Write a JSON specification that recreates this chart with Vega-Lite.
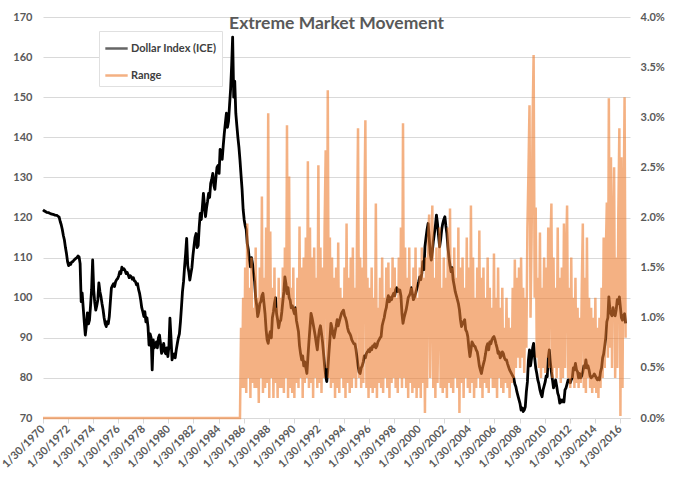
{
  "$schema": "https://vega.github.io/schema/vega-lite/v6.json",
  "width": 587,
  "height": 401,
  "autosize": "none",
  "padding": {"left": 43, "top": 17, "right": 50, "bottom": 71},
  "background": "white",
  "config": {
    "view": {"stroke": null},
    "font": "Lato"
  },
  "title": {
    "text": "Extreme Market Movement",
    "font": "Lato",
    "fontSize": 17.5,
    "fontWeight": "bold",
    "color": "#595959",
    "anchor": "middle",
    "baseline": "middle",
    "offset": 0,
    "dy": 30
  },
  "datasets": {
    "dxy": [
      {"d":"1970-01-30","v":121.9},{"d":"1970-03-15","v":121.6},{"d":"1970-05-15","v":121.3},{"d":"1970-07-15","v":121.2},{"d":"1970-09-15","v":120.9},{"d":"1970-11-15","v":120.8},
      {"d":"1971-01-15","v":120.6},{"d":"1971-03-15","v":120.5},{"d":"1971-05-15","v":120.1},{"d":"1971-06-15","v":119.0},{"d":"1971-07-15","v":118.2},{"d":"1971-08-15","v":117.0},{"d":"1971-09-15","v":115.5},{"d":"1971-10-15","v":114.4},{"d":"1971-11-15","v":112.5},{"d":"1971-12-15","v":111.0},
      {"d":"1972-01-15","v":109.0},{"d":"1972-02-15","v":108.0},{"d":"1972-03-15","v":108.6},{"d":"1972-04-15","v":108.3},{"d":"1972-05-15","v":108.9},{"d":"1972-06-15","v":109.0},{"d":"1972-07-15","v":109.3},{"d":"1972-08-15","v":109.6},{"d":"1972-09-15","v":109.8},{"d":"1972-10-15","v":110.0},{"d":"1972-11-15","v":110.4},{"d":"1972-12-15","v":110.2},
      {"d":"1973-01-15","v":108.5},{"d":"1973-02-15","v":99.0},{"d":"1973-03-15","v":101.2},{"d":"1973-04-15","v":97.5},{"d":"1973-05-15","v":94.0},{"d":"1973-06-15","v":90.7},{"d":"1973-07-15","v":93.0},{"d":"1973-08-15","v":96.2},{"d":"1973-09-15","v":93.5},{"d":"1973-10-15","v":94.4},{"d":"1973-11-15","v":98.0},{"d":"1973-12-15","v":102.0},
      {"d":"1974-01-15","v":109.4},{"d":"1974-02-15","v":101.9},{"d":"1974-03-15","v":99.0},{"d":"1974-04-15","v":96.9},{"d":"1974-05-15","v":98.0},{"d":"1974-06-15","v":99.5},{"d":"1974-07-15","v":103.7},{"d":"1974-08-15","v":101.5},{"d":"1974-09-15","v":100.2},{"d":"1974-10-15","v":98.5},{"d":"1974-11-15","v":97.0},{"d":"1974-12-15","v":95.0},
      {"d":"1975-01-15","v":93.5},{"d":"1975-02-15","v":92.8},{"d":"1975-03-15","v":94.0},{"d":"1975-04-15","v":93.5},{"d":"1975-05-15","v":95.3},{"d":"1975-06-15","v":99.0},{"d":"1975-07-15","v":102.4},{"d":"1975-08-15","v":103.0},{"d":"1975-09-15","v":103.5},{"d":"1975-10-15","v":102.8},{"d":"1975-11-15","v":104.0},{"d":"1975-12-15","v":104.5},
      {"d":"1976-01-15","v":104.8},{"d":"1976-02-15","v":105.5},{"d":"1976-03-15","v":106.5},{"d":"1976-04-15","v":106.0},{"d":"1976-05-15","v":107.6},{"d":"1976-06-15","v":107.0},{"d":"1976-07-15","v":107.2},{"d":"1976-08-15","v":106.8},{"d":"1976-09-15","v":106.0},{"d":"1976-10-15","v":106.3},{"d":"1976-11-15","v":105.7},{"d":"1976-12-15","v":105.0},
      {"d":"1977-01-15","v":105.5},{"d":"1977-02-15","v":105.2},{"d":"1977-03-15","v":104.6},{"d":"1977-04-15","v":105.0},{"d":"1977-05-15","v":104.2},{"d":"1977-06-15","v":104.0},{"d":"1977-07-15","v":103.2},{"d":"1977-08-15","v":103.5},{"d":"1977-09-15","v":102.0},{"d":"1977-10-15","v":101.0},{"d":"1977-11-15","v":99.4},{"d":"1977-12-15","v":97.5},
      {"d":"1978-01-15","v":96.5},{"d":"1978-02-15","v":95.3},{"d":"1978-03-15","v":96.5},{"d":"1978-04-15","v":94.0},{"d":"1978-05-15","v":95.0},{"d":"1978-06-15","v":92.8},{"d":"1978-07-15","v":88.2},{"d":"1978-08-15","v":91.0},{"d":"1978-09-15","v":90.0},{"d":"1978-10-15","v":82.0},{"d":"1978-11-15","v":89.5},{"d":"1978-12-15","v":87.5},
      {"d":"1979-01-15","v":88.0},{"d":"1979-02-15","v":89.0},{"d":"1979-03-15","v":87.5},{"d":"1979-04-15","v":90.0},{"d":"1979-05-15","v":90.7},{"d":"1979-06-15","v":88.5},{"d":"1979-07-15","v":86.1},{"d":"1979-08-15","v":87.5},{"d":"1979-09-15","v":88.6},{"d":"1979-10-15","v":86.5},{"d":"1979-11-15","v":86.0},{"d":"1979-12-15","v":87.5},
      {"d":"1980-01-15","v":85.3},{"d":"1980-02-15","v":88.0},{"d":"1980-03-15","v":94.9},{"d":"1980-04-15","v":90.0},{"d":"1980-05-15","v":84.5},{"d":"1980-06-15","v":85.5},{"d":"1980-07-15","v":86.0},{"d":"1980-08-15","v":85.0},{"d":"1980-09-15","v":87.0},{"d":"1980-10-15","v":88.5},{"d":"1980-11-15","v":90.0},{"d":"1980-12-15","v":91.0},
      {"d":"1981-01-15","v":94.0},{"d":"1981-02-15","v":97.8},{"d":"1981-03-15","v":101.5},{"d":"1981-04-15","v":104.0},{"d":"1981-05-15","v":107.7},{"d":"1981-06-15","v":111.0},{"d":"1981-07-15","v":114.8},{"d":"1981-08-15","v":108.0},{"d":"1981-09-15","v":106.5},{"d":"1981-10-15","v":104.4},{"d":"1981-11-15","v":106.0},{"d":"1981-12-15","v":107.5},
      {"d":"1982-01-15","v":110.6},{"d":"1982-02-15","v":113.0},{"d":"1982-03-15","v":115.0},{"d":"1982-04-15","v":116.0},{"d":"1982-05-15","v":112.5},{"d":"1982-06-15","v":113.0},{"d":"1982-07-15","v":117.5},{"d":"1982-08-15","v":121.0},{"d":"1982-09-15","v":119.5},{"d":"1982-10-15","v":122.5},{"d":"1982-11-15","v":126.0},{"d":"1982-12-15","v":123.0},
      {"d":"1983-01-15","v":120.2},{"d":"1983-02-15","v":122.5},{"d":"1983-03-15","v":124.0},{"d":"1983-04-15","v":126.0},{"d":"1983-05-15","v":125.0},{"d":"1983-06-15","v":128.5},{"d":"1983-07-15","v":129.5},{"d":"1983-08-15","v":131.0},{"d":"1983-09-15","v":128.0},{"d":"1983-10-15","v":127.0},{"d":"1983-11-15","v":130.0},{"d":"1983-12-15","v":132.5},
      {"d":"1984-01-15","v":133.0},{"d":"1984-02-15","v":131.0},{"d":"1984-03-15","v":137.0},{"d":"1984-04-15","v":135.5},{"d":"1984-05-15","v":134.5},{"d":"1984-06-15","v":138.0},{"d":"1984-07-15","v":141.0},{"d":"1984-08-15","v":143.5},{"d":"1984-09-15","v":146.0},{"d":"1984-10-15","v":142.5},{"d":"1984-11-15","v":144.0},{"d":"1984-12-15","v":148.0},
      {"d":"1985-01-15","v":152.0},{"d":"1985-02-15","v":158.0},{"d":"1985-03-15","v":165.0},{"d":"1985-04-15","v":150.0},{"d":"1985-05-15","v":154.0},{"d":"1985-06-15","v":146.0},{"d":"1985-07-15","v":143.0},{"d":"1985-08-15","v":140.0},{"d":"1985-09-15","v":137.5},{"d":"1985-10-15","v":134.3},{"d":"1985-11-15","v":130.5},{"d":"1985-12-15","v":127.0},
      {"d":"1986-01-15","v":122.0},{"d":"1986-02-15","v":119.4},{"d":"1986-03-15","v":118.0},{"d":"1986-04-15","v":117.0},{"d":"1986-05-15","v":113.5},{"d":"1986-06-15","v":112.0},{"d":"1986-07-15","v":109.5},{"d":"1986-08-15","v":107.7},{"d":"1986-09-15","v":110.0},{"d":"1986-10-15","v":108.5},{"d":"1986-11-15","v":106.0},{"d":"1986-12-15","v":104.0},
      {"d":"1987-01-15","v":100.0},{"d":"1987-02-15","v":98.0},{"d":"1987-03-15","v":95.3},{"d":"1987-04-15","v":96.5},{"d":"1987-05-15","v":98.5},{"d":"1987-06-15","v":99.0},{"d":"1987-07-15","v":100.5},{"d":"1987-08-15","v":101.1},{"d":"1987-09-15","v":98.5},{"d":"1987-10-15","v":96.0},{"d":"1987-11-15","v":92.0},{"d":"1987-12-15","v":89.5},
      {"d":"1988-01-15","v":88.6},{"d":"1988-02-15","v":90.5},{"d":"1988-03-15","v":91.5},{"d":"1988-04-15","v":90.0},{"d":"1988-05-15","v":95.0},{"d":"1988-06-15","v":96.5},{"d":"1988-07-15","v":98.6},{"d":"1988-08-15","v":100.0},{"d":"1988-09-15","v":96.0},{"d":"1988-10-15","v":94.5},{"d":"1988-11-15","v":92.5},{"d":"1988-12-15","v":94.0},
      {"d":"1989-01-15","v":94.4},{"d":"1989-02-15","v":96.5},{"d":"1989-03-15","v":99.0},{"d":"1989-04-15","v":101.5},{"d":"1989-05-15","v":105.2},{"d":"1989-06-15","v":103.5},{"d":"1989-07-15","v":101.0},{"d":"1989-08-15","v":102.5},{"d":"1989-09-15","v":100.0},{"d":"1989-10-15","v":99.4},{"d":"1989-11-15","v":97.5},{"d":"1989-12-15","v":98.0},
      {"d":"1990-01-15","v":97.0},{"d":"1990-02-15","v":96.0},{"d":"1990-03-15","v":97.5},{"d":"1990-04-15","v":94.4},{"d":"1990-05-15","v":93.0},{"d":"1990-06-15","v":91.5},{"d":"1990-07-15","v":88.0},{"d":"1990-08-15","v":86.0},{"d":"1990-09-15","v":84.5},{"d":"1990-10-15","v":85.5},{"d":"1990-11-15","v":83.0},{"d":"1990-12-15","v":84.0},
      {"d":"1991-01-15","v":82.5},{"d":"1991-02-15","v":81.1},{"d":"1991-03-15","v":85.0},{"d":"1991-04-15","v":89.0},{"d":"1991-05-15","v":92.5},{"d":"1991-06-15","v":96.1},{"d":"1991-07-15","v":95.0},{"d":"1991-08-15","v":93.5},{"d":"1991-09-15","v":92.0},{"d":"1991-10-15","v":90.5},{"d":"1991-11-15","v":88.6},{"d":"1991-12-15","v":87.0},
      {"d":"1992-01-15","v":90.0},{"d":"1992-02-15","v":92.0},{"d":"1992-03-15","v":93.0},{"d":"1992-04-15","v":91.1},{"d":"1992-05-15","v":89.0},{"d":"1992-06-15","v":86.0},{"d":"1992-07-15","v":83.0},{"d":"1992-08-15","v":80.5},{"d":"1992-09-15","v":79.1},{"d":"1992-10-15","v":82.0},{"d":"1992-11-15","v":86.0},{"d":"1992-12-15","v":89.5},
      {"d":"1993-01-15","v":93.6},{"d":"1993-02-15","v":92.5},{"d":"1993-03-15","v":91.0},{"d":"1993-04-15","v":90.0},{"d":"1993-05-15","v":91.5},{"d":"1993-06-15","v":92.8},{"d":"1993-07-15","v":94.5},{"d":"1993-08-15","v":93.0},{"d":"1993-09-15","v":94.0},{"d":"1993-10-15","v":95.0},{"d":"1993-11-15","v":96.0},{"d":"1993-12-15","v":96.5},
      {"d":"1994-01-15","v":96.9},{"d":"1994-02-15","v":95.5},{"d":"1994-03-15","v":95.0},{"d":"1994-04-15","v":94.0},{"d":"1994-05-15","v":92.5},{"d":"1994-06-15","v":91.5},{"d":"1994-07-15","v":91.1},{"d":"1994-08-15","v":90.5},{"d":"1994-09-15","v":89.5},{"d":"1994-10-15","v":89.0},{"d":"1994-11-15","v":88.5},{"d":"1994-12-15","v":88.5},
      {"d":"1995-01-15","v":87.0},{"d":"1995-02-15","v":85.0},{"d":"1995-03-15","v":83.0},{"d":"1995-04-15","v":81.5},{"d":"1995-05-15","v":81.1},{"d":"1995-06-15","v":82.5},{"d":"1995-07-15","v":83.0},{"d":"1995-08-15","v":84.0},{"d":"1995-09-15","v":85.5},{"d":"1995-10-15","v":85.0},{"d":"1995-11-15","v":86.1},{"d":"1995-12-15","v":86.5},
      {"d":"1996-01-15","v":87.0},{"d":"1996-02-15","v":86.5},{"d":"1996-03-15","v":87.5},{"d":"1996-04-15","v":87.0},{"d":"1996-05-15","v":88.0},{"d":"1996-06-15","v":87.8},{"d":"1996-07-15","v":88.5},{"d":"1996-08-15","v":87.5},{"d":"1996-09-15","v":88.0},{"d":"1996-10-15","v":89.0},{"d":"1996-11-15","v":89.5},{"d":"1996-12-15","v":90.0},
      {"d":"1997-01-15","v":90.3},{"d":"1997-02-15","v":93.0},{"d":"1997-03-15","v":94.0},{"d":"1997-04-15","v":95.0},{"d":"1997-05-15","v":96.5},{"d":"1997-06-15","v":97.5},{"d":"1997-07-15","v":99.4},{"d":"1997-08-15","v":100.5},{"d":"1997-09-15","v":99.0},{"d":"1997-10-15","v":100.0},{"d":"1997-11-15","v":99.5},{"d":"1997-12-15","v":100.5},
      {"d":"1998-01-15","v":101.1},{"d":"1998-02-15","v":100.5},{"d":"1998-03-15","v":102.0},{"d":"1998-04-15","v":102.5},{"d":"1998-05-15","v":101.5},{"d":"1998-06-15","v":102.0},{"d":"1998-07-15","v":101.9},{"d":"1998-08-15","v":100.5},{"d":"1998-09-15","v":96.0},{"d":"1998-10-15","v":93.6},{"d":"1998-11-15","v":95.0},{"d":"1998-12-15","v":96.0},
      {"d":"1999-01-15","v":97.0},{"d":"1999-02-15","v":98.5},{"d":"1999-03-15","v":100.0},{"d":"1999-04-15","v":100.5},{"d":"1999-05-15","v":101.1},{"d":"1999-06-15","v":102.5},{"d":"1999-07-15","v":101.0},{"d":"1999-08-15","v":99.5},{"d":"1999-09-15","v":100.2},{"d":"1999-10-15","v":101.0},{"d":"1999-11-15","v":102.0},{"d":"1999-12-15","v":103.0},
      {"d":"2000-01-15","v":104.0},{"d":"2000-02-15","v":105.2},{"d":"2000-03-15","v":104.5},{"d":"2000-04-15","v":106.1},{"d":"2000-05-15","v":109.0},{"d":"2000-06-15","v":107.0},{"d":"2000-07-15","v":112.7},{"d":"2000-08-15","v":115.0},{"d":"2000-09-15","v":117.0},{"d":"2000-10-15","v":118.5},{"d":"2000-11-15","v":115.0},{"d":"2000-12-15","v":111.0},
      {"d":"2001-01-15","v":109.4},{"d":"2001-02-15","v":111.5},{"d":"2001-03-15","v":114.0},{"d":"2001-04-15","v":116.0},{"d":"2001-05-15","v":118.0},{"d":"2001-06-15","v":120.6},{"d":"2001-07-15","v":118.5},{"d":"2001-08-15","v":115.5},{"d":"2001-09-15","v":112.7},{"d":"2001-10-15","v":114.5},{"d":"2001-11-15","v":117.0},{"d":"2001-12-15","v":118.5},
      {"d":"2002-01-15","v":119.5},{"d":"2002-02-15","v":120.2},{"d":"2002-03-15","v":118.0},{"d":"2002-04-15","v":116.0},{"d":"2002-05-15","v":112.7},{"d":"2002-06-15","v":110.0},{"d":"2002-07-15","v":108.0},{"d":"2002-08-15","v":106.5},{"d":"2002-09-15","v":107.5},{"d":"2002-10-15","v":104.4},{"d":"2002-11-15","v":103.0},{"d":"2002-12-15","v":101.5},
      {"d":"2003-01-15","v":100.5},{"d":"2003-02-15","v":99.5},{"d":"2003-03-15","v":98.6},{"d":"2003-04-15","v":97.0},{"d":"2003-05-15","v":94.5},{"d":"2003-06-15","v":92.8},{"d":"2003-07-15","v":93.5},{"d":"2003-08-15","v":94.0},{"d":"2003-09-15","v":94.5},{"d":"2003-10-15","v":92.0},{"d":"2003-11-15","v":91.5},{"d":"2003-12-15","v":90.3},
      {"d":"2004-01-15","v":87.5},{"d":"2004-02-15","v":85.3},{"d":"2004-03-15","v":87.0},{"d":"2004-04-15","v":89.0},{"d":"2004-05-15","v":88.5},{"d":"2004-06-15","v":88.0},{"d":"2004-07-15","v":87.8},{"d":"2004-08-15","v":87.0},{"d":"2004-09-15","v":86.5},{"d":"2004-10-15","v":85.0},{"d":"2004-11-15","v":83.0},{"d":"2004-12-15","v":82.0},
      {"d":"2005-01-15","v":81.1},{"d":"2005-02-15","v":82.5},{"d":"2005-03-15","v":83.5},{"d":"2005-04-15","v":84.5},{"d":"2005-05-15","v":86.0},{"d":"2005-06-15","v":87.8},{"d":"2005-07-15","v":88.5},{"d":"2005-08-15","v":87.0},{"d":"2005-09-15","v":89.0},{"d":"2005-10-15","v":88.5},{"d":"2005-11-15","v":89.5},{"d":"2005-12-15","v":90.0},
      {"d":"2006-01-15","v":90.3},{"d":"2006-02-15","v":89.5},{"d":"2006-03-15","v":88.5},{"d":"2006-04-15","v":87.5},{"d":"2006-05-15","v":86.1},{"d":"2006-06-15","v":86.5},{"d":"2006-07-15","v":85.0},{"d":"2006-08-15","v":85.5},{"d":"2006-09-15","v":86.5},{"d":"2006-10-15","v":86.1},{"d":"2006-11-15","v":85.0},{"d":"2006-12-15","v":84.5},
      {"d":"2007-01-15","v":84.5},{"d":"2007-02-15","v":83.5},{"d":"2007-03-15","v":82.8},{"d":"2007-04-15","v":82.0},{"d":"2007-05-15","v":81.5},{"d":"2007-06-15","v":81.0},{"d":"2007-07-15","v":80.5},{"d":"2007-08-15","v":80.0},{"d":"2007-09-15","v":78.5},{"d":"2007-10-15","v":77.8},{"d":"2007-11-15","v":76.5},{"d":"2007-12-15","v":75.5},
      {"d":"2008-01-15","v":74.5},{"d":"2008-02-15","v":73.5},{"d":"2008-03-15","v":72.0},{"d":"2008-04-15","v":72.5},{"d":"2008-05-15","v":71.6},{"d":"2008-06-15","v":72.0},{"d":"2008-07-15","v":72.8},{"d":"2008-08-15","v":76.5},{"d":"2008-09-15","v":79.0},{"d":"2008-10-15","v":84.5},{"d":"2008-11-15","v":87.0},{"d":"2008-12-15","v":83.0},
      {"d":"2009-01-15","v":85.0},{"d":"2009-02-15","v":87.5},{"d":"2009-03-15","v":88.6},{"d":"2009-04-15","v":85.0},{"d":"2009-05-15","v":82.5},{"d":"2009-06-15","v":81.1},{"d":"2009-07-15","v":79.5},{"d":"2009-08-15","v":78.5},{"d":"2009-09-15","v":77.0},{"d":"2009-10-15","v":76.0},{"d":"2009-11-15","v":75.3},{"d":"2009-12-15","v":77.0},
      {"d":"2010-01-15","v":78.0},{"d":"2010-02-15","v":79.0},{"d":"2010-03-15","v":80.5},{"d":"2010-04-15","v":80.3},{"d":"2010-05-15","v":85.0},{"d":"2010-06-15","v":87.0},{"d":"2010-07-15","v":84.0},{"d":"2010-08-15","v":81.5},{"d":"2010-09-15","v":79.5},{"d":"2010-10-15","v":77.5},{"d":"2010-11-15","v":78.5},{"d":"2010-12-15","v":79.5},
      {"d":"2011-01-15","v":78.0},{"d":"2011-02-15","v":76.2},{"d":"2011-03-15","v":75.5},{"d":"2011-04-15","v":73.7},{"d":"2011-05-15","v":74.5},{"d":"2011-06-15","v":74.0},{"d":"2011-07-15","v":74.5},{"d":"2011-08-15","v":74.0},{"d":"2011-09-15","v":77.0},{"d":"2011-10-15","v":77.5},{"d":"2011-11-15","v":78.5},{"d":"2011-12-15","v":79.5},
      {"d":"2012-01-15","v":79.5},{"d":"2012-02-15","v":78.8},{"d":"2012-03-15","v":79.5},{"d":"2012-04-15","v":80.0},{"d":"2012-05-15","v":82.5},{"d":"2012-06-15","v":82.0},{"d":"2012-07-15","v":83.6},{"d":"2012-08-15","v":82.0},{"d":"2012-09-15","v":81.5},{"d":"2012-10-15","v":80.0},{"d":"2012-11-15","v":81.1},{"d":"2012-12-15","v":80.0},
      {"d":"2013-01-15","v":80.5},{"d":"2013-02-15","v":81.5},{"d":"2013-03-15","v":83.0},{"d":"2013-04-15","v":82.5},{"d":"2013-05-15","v":84.5},{"d":"2013-06-15","v":82.5},{"d":"2013-07-15","v":83.0},{"d":"2013-08-15","v":82.0},{"d":"2013-09-15","v":80.5},{"d":"2013-10-15","v":80.0},{"d":"2013-11-15","v":80.3},{"d":"2013-12-15","v":80.5},
      {"d":"2014-01-15","v":81.0},{"d":"2014-02-15","v":80.5},{"d":"2014-03-15","v":80.0},{"d":"2014-04-15","v":79.5},{"d":"2014-05-15","v":80.0},{"d":"2014-06-15","v":79.5},{"d":"2014-07-15","v":81.5},{"d":"2014-08-15","v":82.5},{"d":"2014-09-15","v":85.0},{"d":"2014-10-15","v":86.0},{"d":"2014-11-15","v":88.0},{"d":"2014-12-15","v":90.0},
      {"d":"2015-01-15","v":94.0},{"d":"2015-02-15","v":95.0},{"d":"2015-03-15","v":100.2},{"d":"2015-04-15","v":97.0},{"d":"2015-05-15","v":96.0},{"d":"2015-06-15","v":95.5},{"d":"2015-07-15","v":97.5},{"d":"2015-08-15","v":96.0},{"d":"2015-09-15","v":95.5},{"d":"2015-10-15","v":97.0},{"d":"2015-11-15","v":99.5},{"d":"2015-12-15","v":98.5},
      {"d":"2016-01-15","v":100.2},{"d":"2016-02-15","v":97.5},{"d":"2016-03-15","v":95.0},{"d":"2016-04-15","v":94.4},{"d":"2016-05-15","v":95.5},{"d":"2016-06-15","v":96.0},{"d":"2016-07-15","v":93.6}
    ],
    "range": [
      {"d":"1970-01-30","r":0},{"d":"1985-10-15","r":0},{"d":"1985-11-15","r":0.9},{"d":"1985-12-15","r":0.3},
      {"d":"1986-01-15","r":1.2},{"d":"1986-02-15","r":0.3},{"d":"1986-03-15","r":1.5},{"d":"1986-04-15","r":0.25},{"d":"1986-05-15","r":1.94},{"d":"1986-06-15","r":0.4},{"d":"1986-07-15","r":1.3},{"d":"1986-08-15","r":0.2},{"d":"1986-09-15","r":1.6},{"d":"1986-10-15","r":0.35},{"d":"1986-11-15","r":1.1},{"d":"1986-12-15","r":0.3},
      {"d":"1987-01-15","r":1.7},{"d":"1987-02-15","r":0.3},{"d":"1987-03-15","r":1.2},{"d":"1987-04-15","r":0.15},{"d":"1987-05-15","r":1.5},{"d":"1987-06-15","r":0.4},{"d":"1987-07-15","r":2.21},{"d":"1987-08-15","r":0.25},{"d":"1987-09-15","r":1.4},{"d":"1987-10-15","r":0.3},{"d":"1987-11-15","r":1.9},{"d":"1987-12-15","r":0.35},
      {"d":"1988-01-15","r":3.04},{"d":"1988-02-15","r":0.2},{"d":"1988-03-15","r":1.86},{"d":"1988-04-15","r":0.4},{"d":"1988-05-15","r":1.3},{"d":"1988-06-15","r":0.2},{"d":"1988-07-15","r":1.5},{"d":"1988-08-15","r":0.35},{"d":"1988-09-15","r":1.1},{"d":"1988-10-15","r":0.2},{"d":"1988-11-15","r":1.4},{"d":"1988-12-15","r":0.3},
      {"d":"1989-01-15","r":1.2},{"d":"1989-02-15","r":0.3},{"d":"1989-03-15","r":1.5},{"d":"1989-04-15","r":0.25},{"d":"1989-05-15","r":1.7},{"d":"1989-06-15","r":0.4},{"d":"1989-07-15","r":2.92},{"d":"1989-08-15","r":0.2},{"d":"1989-09-15","r":2.41},{"d":"1989-10-15","r":0.3},{"d":"1989-11-15","r":1.3},{"d":"1989-12-15","r":0.25},
      {"d":"1990-01-15","r":1.5},{"d":"1990-02-15","r":0.2},{"d":"1990-03-15","r":1.1},{"d":"1990-04-15","r":0.35},{"d":"1990-05-15","r":1.4},{"d":"1990-06-15","r":0.3},{"d":"1990-07-15","r":1.91},{"d":"1990-08-15","r":0.4},{"d":"1990-09-15","r":1.5},{"d":"1990-10-15","r":0.2},{"d":"1990-11-15","r":1.6},{"d":"1990-12-15","r":0.35},
      {"d":"1991-01-15","r":1.8},{"d":"1991-02-15","r":0.4},{"d":"1991-03-15","r":2.56},{"d":"1991-04-15","r":0.3},{"d":"1991-05-15","r":1.9},{"d":"1991-06-15","r":0.35},{"d":"1991-07-15","r":1.6},{"d":"1991-08-15","r":0.2},{"d":"1991-09-15","r":1.7},{"d":"1991-10-15","r":0.4},{"d":"1991-11-15","r":1.4},{"d":"1991-12-15","r":0.3},
      {"d":"1992-01-15","r":2.52},{"d":"1992-02-15","r":0.35},{"d":"1992-03-15","r":1.7},{"d":"1992-04-15","r":0.25},{"d":"1992-05-15","r":1.5},{"d":"1992-06-15","r":0.4},{"d":"1992-07-15","r":1.9},{"d":"1992-08-15","r":2.67},{"d":"1992-09-15","r":0.5},{"d":"1992-10-15","r":3.27},{"d":"1992-11-15","r":0.4},{"d":"1992-12-15","r":1.8},
      {"d":"1993-01-15","r":0.3},{"d":"1993-02-15","r":1.6},{"d":"1993-03-15","r":0.35},{"d":"1993-04-15","r":1.4},{"d":"1993-05-15","r":0.2},{"d":"1993-06-15","r":1.5},{"d":"1993-07-15","r":0.3},{"d":"1993-08-15","r":1.75},{"d":"1993-09-15","r":0.25},{"d":"1993-10-15","r":1.3},{"d":"1993-11-15","r":0.4},{"d":"1993-12-15","r":1.2},
      {"d":"1994-01-15","r":0.3},{"d":"1994-02-15","r":1.5},{"d":"1994-03-15","r":0.2},{"d":"1994-04-15","r":1.94},{"d":"1994-05-15","r":0.35},{"d":"1994-06-15","r":1.4},{"d":"1994-07-15","r":0.25},{"d":"1994-08-15","r":1.6},{"d":"1994-09-15","r":0.3},{"d":"1994-10-15","r":1.7},{"d":"1994-11-15","r":0.4},{"d":"1994-12-15","r":1.3},
      {"d":"1995-01-15","r":0.3},{"d":"1995-02-15","r":1.9},{"d":"1995-03-15","r":2.89},{"d":"1995-04-15","r":0.4},{"d":"1995-05-15","r":1.6},{"d":"1995-06-15","r":0.3},{"d":"1995-07-15","r":1.5},{"d":"1995-08-15","r":0.35},{"d":"1995-09-15","r":2.0},{"d":"1995-10-15","r":2.97},{"d":"1995-11-15","r":0.3},{"d":"1995-12-15","r":1.4},
      {"d":"1996-01-15","r":0.2},{"d":"1996-02-15","r":1.3},{"d":"1996-03-15","r":0.3},{"d":"1996-04-15","r":1.5},{"d":"1996-05-15","r":0.25},{"d":"1996-06-15","r":1.2},{"d":"1996-07-15","r":0.3},{"d":"1996-08-15","r":2.14},{"d":"1996-09-15","r":0.2},{"d":"1996-10-15","r":1.1},{"d":"1996-11-15","r":0.35},{"d":"1996-12-15","r":1.4},
      {"d":"1997-01-15","r":0.3},{"d":"1997-02-15","r":1.6},{"d":"1997-03-15","r":0.25},{"d":"1997-04-15","r":1.2},{"d":"1997-05-15","r":0.4},{"d":"1997-06-15","r":1.5},{"d":"1997-07-15","r":0.3},{"d":"1997-08-15","r":1.55},{"d":"1997-09-15","r":0.2},{"d":"1997-10-15","r":1.3},{"d":"1997-11-15","r":0.35},{"d":"1997-12-15","r":1.6},
      {"d":"1998-01-15","r":0.4},{"d":"1998-02-15","r":1.5},{"d":"1998-03-15","r":0.3},{"d":"1998-04-15","r":1.2},{"d":"1998-05-15","r":0.25},{"d":"1998-06-15","r":1.6},{"d":"1998-07-15","r":0.4},{"d":"1998-08-15","r":1.9},{"d":"1998-09-15","r":0.3},{"d":"1998-10-15","r":2.94},{"d":"1998-11-15","r":0.4},{"d":"1998-12-15","r":1.7},
      {"d":"1999-01-15","r":0.3},{"d":"1999-02-15","r":1.4},{"d":"1999-03-15","r":0.2},{"d":"1999-04-15","r":1.7},{"d":"1999-05-15","r":0.35},{"d":"1999-06-15","r":1.3},{"d":"1999-07-15","r":0.25},{"d":"1999-08-15","r":1.5},{"d":"1999-09-15","r":0.3},{"d":"1999-10-15","r":1.7},{"d":"1999-11-15","r":0.2},{"d":"1999-12-15","r":1.2},
      {"d":"2000-01-15","r":0.3},{"d":"2000-02-15","r":1.5},{"d":"2000-03-15","r":0.2},{"d":"2000-04-15","r":1.7},{"d":"2000-05-15","r":0.35},{"d":"2000-06-15","r":1.4},{"d":"2000-07-15","r":0.05},{"d":"2000-08-15","r":1.6},{"d":"2000-09-15","r":0.3},{"d":"2000-10-15","r":1.8},{"d":"2000-11-15","r":2.03},{"d":"2000-12-15","r":0.4},
      {"d":"2001-01-15","r":1.5},{"d":"2001-02-15","r":2.12},{"d":"2001-03-15","r":0.3},{"d":"2001-04-15","r":1.4},{"d":"2001-05-15","r":0.2},{"d":"2001-06-15","r":1.7},{"d":"2001-07-15","r":0.35},{"d":"2001-08-15","r":1.2},{"d":"2001-09-15","r":1.9},{"d":"2001-10-15","r":0.3},{"d":"2001-11-15","r":1.3},{"d":"2001-12-15","r":0.25},
      {"d":"2002-01-15","r":1.6},{"d":"2002-02-15","r":0.3},{"d":"2002-03-15","r":1.4},{"d":"2002-04-15","r":0.2},{"d":"2002-05-15","r":1.9},{"d":"2002-06-15","r":0.35},{"d":"2002-07-15","r":2.09},{"d":"2002-08-15","r":0.3},{"d":"2002-09-15","r":1.5},{"d":"2002-10-15","r":0.25},{"d":"2002-11-15","r":1.7},{"d":"2002-12-15","r":0.4},
      {"d":"2003-01-15","r":1.4},{"d":"2003-02-15","r":0.3},{"d":"2003-03-15","r":1.9},{"d":"2003-04-15","r":0.05},{"d":"2003-05-15","r":1.5},{"d":"2003-06-15","r":0.35},{"d":"2003-07-15","r":1.6},{"d":"2003-08-15","r":0.2},{"d":"2003-09-15","r":1.3},{"d":"2003-10-15","r":0.4},{"d":"2003-11-15","r":1.8},{"d":"2003-12-15","r":0.3},
      {"d":"2004-01-15","r":1.5},{"d":"2004-02-15","r":0.25},{"d":"2004-03-15","r":2.12},{"d":"2004-04-15","r":0.35},{"d":"2004-05-15","r":1.6},{"d":"2004-06-15","r":0.2},{"d":"2004-07-15","r":1.2},{"d":"2004-08-15","r":0.3},{"d":"2004-09-15","r":1.5},{"d":"2004-10-15","r":0.4},{"d":"2004-11-15","r":1.87},{"d":"2004-12-15","r":0.3},
      {"d":"2005-01-15","r":1.4},{"d":"2005-02-15","r":0.2},{"d":"2005-03-15","r":1.5},{"d":"2005-04-15","r":0.35},{"d":"2005-05-15","r":1.2},{"d":"2005-06-15","r":0.3},{"d":"2005-07-15","r":1.6},{"d":"2005-08-15","r":0.25},{"d":"2005-09-15","r":1.3},{"d":"2005-10-15","r":0.4},{"d":"2005-11-15","r":1.1},{"d":"2005-12-15","r":0.3},
      {"d":"2006-01-15","r":1.64},{"d":"2006-02-15","r":0.3},{"d":"2006-03-15","r":1.2},{"d":"2006-04-15","r":0.2},{"d":"2006-05-15","r":1.5},{"d":"2006-06-15","r":0.4},{"d":"2006-07-15","r":1.1},{"d":"2006-08-15","r":0.3},{"d":"2006-09-15","r":1.3},{"d":"2006-10-15","r":0.25},{"d":"2006-11-15","r":0.9},{"d":"2006-12-15","r":0.35},
      {"d":"2007-01-15","r":1.2},{"d":"2007-02-15","r":0.3},{"d":"2007-03-15","r":1.0},{"d":"2007-04-15","r":0.2},{"d":"2007-05-15","r":0.9},{"d":"2007-06-15","r":0.35},{"d":"2007-07-15","r":1.3},{"d":"2007-08-15","r":0.4},{"d":"2007-09-15","r":1.58},{"d":"2007-10-15","r":0.5},{"d":"2007-11-15","r":1.4},{"d":"2007-12-15","r":0.6},
      {"d":"2008-01-15","r":1.5},{"d":"2008-02-15","r":0.5},{"d":"2008-03-15","r":1.6},{"d":"2008-04-15","r":0.6},{"d":"2008-05-15","r":1.3},{"d":"2008-06-15","r":0.45},{"d":"2008-07-15","r":1.2},{"d":"2008-08-15","r":0.7},{"d":"2008-09-15","r":1.9},{"d":"2008-10-15","r":2.44},{"d":"2008-11-15","r":3.12},{"d":"2008-12-15","r":1.0},
      {"d":"2009-01-15","r":1.8},{"d":"2009-02-15","r":3.0},{"d":"2009-03-15","r":3.62},{"d":"2009-04-15","r":1.2},{"d":"2009-05-15","r":2.1},{"d":"2009-06-15","r":0.6},{"d":"2009-07-15","r":1.4},{"d":"2009-08-15","r":0.5},{"d":"2009-09-15","r":1.85},{"d":"2009-10-15","r":0.4},{"d":"2009-11-15","r":1.3},{"d":"2009-12-15","r":0.5},
      {"d":"2010-01-15","r":1.6},{"d":"2010-02-15","r":0.45},{"d":"2010-03-15","r":1.5},{"d":"2010-04-15","r":0.6},{"d":"2010-05-15","r":1.9},{"d":"2010-06-15","r":0.5},{"d":"2010-07-15","r":1.7},{"d":"2010-08-15","r":2.14},{"d":"2010-09-15","r":0.4},{"d":"2010-10-15","r":1.6},{"d":"2010-11-15","r":0.5},{"d":"2010-12-15","r":1.3},
      {"d":"2011-01-15","r":0.4},{"d":"2011-02-15","r":1.9},{"d":"2011-03-15","r":0.5},{"d":"2011-04-15","r":1.4},{"d":"2011-05-15","r":0.35},{"d":"2011-06-15","r":1.5},{"d":"2011-07-15","r":0.4},{"d":"2011-08-15","r":1.94},{"d":"2011-09-15","r":0.5},{"d":"2011-10-15","r":1.6},{"d":"2011-11-15","r":2.12},{"d":"2011-12-15","r":0.4},
      {"d":"2012-01-15","r":1.3},{"d":"2012-02-15","r":0.3},{"d":"2012-03-15","r":1.6},{"d":"2012-04-15","r":0.4},{"d":"2012-05-15","r":1.2},{"d":"2012-06-15","r":0.3},{"d":"2012-07-15","r":1.4},{"d":"2012-08-15","r":0.35},{"d":"2012-09-15","r":1.1},{"d":"2012-10-15","r":0.3},{"d":"2012-11-15","r":1.0},{"d":"2012-12-15","r":0.35},
      {"d":"2013-01-15","r":1.3},{"d":"2013-02-15","r":1.94},{"d":"2013-03-15","r":0.3},{"d":"2013-04-15","r":1.4},{"d":"2013-05-15","r":0.25},{"d":"2013-06-15","r":1.8},{"d":"2013-07-15","r":0.4},{"d":"2013-08-15","r":1.2},{"d":"2013-09-15","r":0.3},{"d":"2013-10-15","r":1.1},{"d":"2013-11-15","r":0.25},{"d":"2013-12-15","r":1.0},
      {"d":"2014-01-15","r":0.3},{"d":"2014-02-15","r":1.2},{"d":"2014-03-15","r":0.25},{"d":"2014-04-15","r":0.9},{"d":"2014-05-15","r":0.2},{"d":"2014-06-15","r":1.0},{"d":"2014-07-15","r":0.3},{"d":"2014-08-15","r":1.3},{"d":"2014-09-15","r":0.4},{"d":"2014-10-15","r":1.8},{"d":"2014-11-15","r":0.5},{"d":"2014-12-15","r":1.6},
      {"d":"2015-01-15","r":2.15},{"d":"2015-02-15","r":0.6},{"d":"2015-03-15","r":3.19},{"d":"2015-04-15","r":0.7},{"d":"2015-05-15","r":2.6},{"d":"2015-06-15","r":0.5},{"d":"2015-07-15","r":1.8},{"d":"2015-08-15","r":2.5},{"d":"2015-09-15","r":0.4},{"d":"2015-10-15","r":1.6},{"d":"2015-11-15","r":0.5},{"d":"2015-12-15","r":2.0},
      {"d":"2016-01-15","r":2.89},{"d":"2016-02-15","r":0.02},{"d":"2016-03-15","r":2.6},{"d":"2016-04-15","r":0.3},{"d":"2016-05-15","r":1.9},{"d":"2016-06-15","r":3.2},{"d":"2016-07-15","r":0.8}
    ]
  },
  "encoding": {
    "x": {
      "field": "d",
      "type": "temporal",
      "scale": {
        "type": "utc",
        "domain": [
          {"year": 1970, "month": 1, "date": 30, "utc": true},
          {"year": 2016, "month": 11, "date": 20, "utc": true}
        ]
      },
      "axis": {
        "title": null,
        "grid": false,
        "domainColor": "#d9d9d9",
        "tickColor": "#d9d9d9",
        "tickSize": 5,
        "labelAngle": -45,
        "labelAlign": "right",
        "labelBaseline": "middle",
        "labelPadding": 4,
        "labelFont": "Lato",
        "labelFontSize": 11,
        "labelFontWeight": "bold",
        "labelColor": "#595959",
        "labelOverlap": false,
        "labelFlush": false,
        "values": [
          {"year": 1970, "month": 1, "date": 30, "utc": true},
          {"year": 1972, "month": 1, "date": 30, "utc": true},
          {"year": 1974, "month": 1, "date": 30, "utc": true},
          {"year": 1976, "month": 1, "date": 30, "utc": true},
          {"year": 1978, "month": 1, "date": 30, "utc": true},
          {"year": 1980, "month": 1, "date": 30, "utc": true},
          {"year": 1982, "month": 1, "date": 30, "utc": true},
          {"year": 1984, "month": 1, "date": 30, "utc": true},
          {"year": 1986, "month": 1, "date": 30, "utc": true},
          {"year": 1988, "month": 1, "date": 30, "utc": true},
          {"year": 1990, "month": 1, "date": 30, "utc": true},
          {"year": 1992, "month": 1, "date": 30, "utc": true},
          {"year": 1994, "month": 1, "date": 30, "utc": true},
          {"year": 1996, "month": 1, "date": 30, "utc": true},
          {"year": 1998, "month": 1, "date": 30, "utc": true},
          {"year": 2000, "month": 1, "date": 30, "utc": true},
          {"year": 2002, "month": 1, "date": 30, "utc": true},
          {"year": 2004, "month": 1, "date": 30, "utc": true},
          {"year": 2006, "month": 1, "date": 30, "utc": true},
          {"year": 2008, "month": 1, "date": 30, "utc": true},
          {"year": 2010, "month": 1, "date": 30, "utc": true},
          {"year": 2012, "month": 1, "date": 30, "utc": true},
          {"year": 2014, "month": 1, "date": 30, "utc": true},
          {"year": 2016, "month": 1, "date": 30, "utc": true}
        ],
        "labelExpr": "utcFormat(datum.value, '%-m/%d/%Y')"
      }
    }
  },
  "layer": [
    {
      "data": {"name": "dxy"},
      "mark": {"type": "line", "strokeWidth": 2.8, "strokeJoin": "round"},
      "encoding": {
        "y": {
          "field": "v",
          "type": "quantitative",
          "scale": {"domain": [70, 170], "nice": false, "zero": false},
          "axis": {
            "title": null,
            "orient": "left",
            "values": [70, 80, 90, 100, 110, 120, 130, 140, 150, 160, 170],
            "grid": true,
            "gridColor": "#d9d9d9",
            "gridWidth": 1,
            "domain": false,
            "ticks": false,
            "labelPadding": 11,
            "labelFont": "Lato",
            "labelFontSize": 11,
            "labelFontWeight": "bold",
            "labelColor": "#595959"
          }
        },
        "color": {
          "datum": "Dollar Index (ICE)",
          "type": "nominal",
          "scale": {"domain": ["Dollar Index (ICE)", "Range"], "range": ["#000000", "#ED7D31"]},
          "legend": {
            "title": null,
            "orient": "none",
            "legendX": 56,
            "legendY": 14,
            "fillColor": "white",
            "strokeColor": "#e0e0e0",
            "padding": 5,
            "symbolType": "stroke",
            "symbolSize": 500,
            "symbolStrokeWidth": 2.5,
            "symbolOpacity": 1,
            "labelFont": "Lato",
            "labelFontSize": 11,
            "labelFontWeight": "bold",
            "labelColor": "#404040",
            "labelOffset": 2,
            "rowPadding": 9
          }
        }
      }
    },
    {
      "data": {"name": "range"},
      "mark": {"type": "line", "strokeWidth": 2.5, "opacity": 0.6},
      "encoding": {
        "y": {
          "field": "r",
          "type": "quantitative",
          "scale": {"domain": [0, 4], "nice": false},
          "axis": {
            "title": null,
            "orient": "right",
            "values": [0, 0.5, 1, 1.5, 2, 2.5, 3, 3.5, 4],
            "grid": false,
            "domain": false,
            "ticks": false,
            "labelPadding": 10,
            "labelFont": "Lato",
            "labelFontSize": 11,
            "labelFontWeight": "bold",
            "labelColor": "#595959",
            "labelExpr": "format(datum.value, '.1f') + '%'"
          }
        },
        "color": {"datum": "Range", "type": "nominal"}
      }
    }
  ],
  "resolve": {"scale": {"y": "independent"}}
}
